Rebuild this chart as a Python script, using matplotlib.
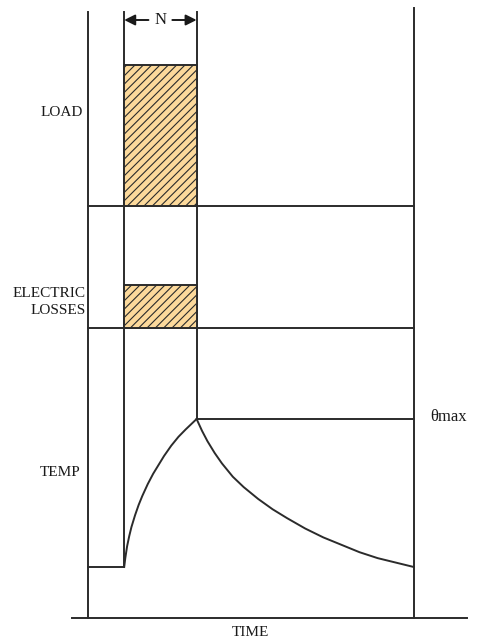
import matplotlib
matplotlib.use("Agg")
import matplotlib.pyplot as plt
from matplotlib.patches import Rectangle

# ---------------- data ----------------
t_on, t_off, t_end = 1.0, 3.0, 9.0          # time of load on / off, end of record
load_level = 1.0
loss_level = 1.0
# temperature rise (relative, 0 = ambient, 1 = theta max)
heat_t = [1.0, 1.03, 1.08, 1.14, 1.2, 1.3, 1.4, 1.5, 1.65, 1.8, 1.95, 2.1, 2.3, 2.5, 2.7, 2.85, 3.0]
heat_T = [0.0, 0.06, 0.14, 0.21, 0.27, 0.35, 0.42, 0.48, 0.56, 0.63, 0.69, 0.75, 0.82, 0.88, 0.93, 0.965, 1.0]
cool_t = [3.0, 3.15, 3.3, 3.5, 3.7, 4.0, 4.3, 4.7, 5.1, 5.5, 6.0, 6.5, 7.0, 7.5, 8.0, 8.5, 9.0]
cool_T = [1.0, 0.92, 0.85, 0.77, 0.70, 0.61, 0.54, 0.46, 0.39, 0.33, 0.26, 0.20, 0.15, 0.10, 0.06, 0.03, 0.0]
labels = ["LOAD", "ELECTRIC\nLOSSES", "TEMP"]

# ---------------- layout (pixels) ----------------
W, H = 483, 640
px0, px_per_t = 88.0, 36.2
y_top, y_div1, y_div2, y_bot = 12, 206, 328, 618
load_top = 65
loss_top = 285
temp0_px, tempmax_px = 567, 419
LC = "#2b2b2b"
FILL = "#FCD99B"
LW = 1.4

plt.rcParams["hatch.linewidth"] = 0.8
plt.rcParams["hatch.color"] = "#1a1a1a"
fig = plt.figure(figsize=(W / 100, H / 100), dpi=100)
ax = fig.add_axes([0, 0, 1, 1])
ax.set_xlim(-px0 / px_per_t, (W - px0) / px_per_t)
ax.set_ylim(H, 0)
ax.axis("off")

def tx(px):
    return (px - px0) / px_per_t

def load_y(v):
    return y_div1 - v * (y_div1 - load_top)

def loss_y(v):
    return y_div2 - v * (y_div2 - loss_top)

def temp_y(v):
    return temp0_px - v * (temp0_px - tempmax_px)

# frame lines
ax.plot([0, 0], [y_top, y_bot], color=LC, lw=LW)
ax.plot([t_end, t_end], [8, y_bot], color=LC, lw=LW)
ax.plot([tx(72), tx(467)], [y_bot, y_bot], color=LC, lw=LW)
ax.plot([0, t_end], [y_div1, y_div1], color=LC, lw=LW)
ax.plot([0, t_end], [y_div2, y_div2], color=LC, lw=LW)
ax.plot([t_on, t_on], [y_top, temp_y(0)], color=LC, lw=LW)
ax.plot([t_off, t_off], [y_top, temp_y(1.0)], color=LC, lw=LW)

# load and losses blocks
for ybase, ytop in [(y_div1, load_y(load_level)), (y_div2, loss_y(loss_level))]:
    ax.add_patch(Rectangle((t_on, ytop), t_off - t_on, ybase - ytop,
                           facecolor=FILL, edgecolor=LC, lw=LW, hatch="////", zorder=3))

# temperature
ax.plot([0, t_on], [temp_y(0), temp_y(0)], color=LC, lw=LW)
ax.plot(heat_t, [temp_y(v) for v in heat_T], color=LC, lw=LW)
ax.plot(cool_t, [temp_y(v) for v in cool_T], color=LC, lw=LW)
ax.plot([t_off, t_end], [temp_y(1.0), temp_y(1.0)], color=LC, lw=LW)

# N arrow
mid = (t_on + t_off) / 2
yN = 20
for end in (t_on, t_off):
    start = mid + (0.33 if end > mid else -0.33)
    ax.annotate("", xy=(end, yN), xytext=(start, yN),
                arrowprops=dict(arrowstyle="-|>", color="#1a1a1a", lw=1.4,
                                mutation_scale=16, shrinkA=0, shrinkB=0))
font = dict(family="Liberation Serif", color="#1a1a1a")
ax.text(mid, yN, "N", ha="center", va="center", fontsize=12, **font)

# labels
fig.text(83 / W, 1 - 112 / H, labels[0], ha="right", va="center", fontsize=11, **font)
fig.text(86 / W, 1 - 302 / H, labels[1], ha="right", va="center", fontsize=11,
         linespacing=1.35, **font)
fig.text(81 / W, 1 - 472 / H, labels[2], ha="right", va="center", fontsize=11, **font)
fig.text(430 / W, 1 - 417 / H, "\u03b8max", ha="left", va="center", fontsize=12, **font)
fig.text(250 / W, 1 - 632 / H, "TIME", ha="center", va="center", fontsize=11, **font)

fig.savefig("out.png", dpi=100)
